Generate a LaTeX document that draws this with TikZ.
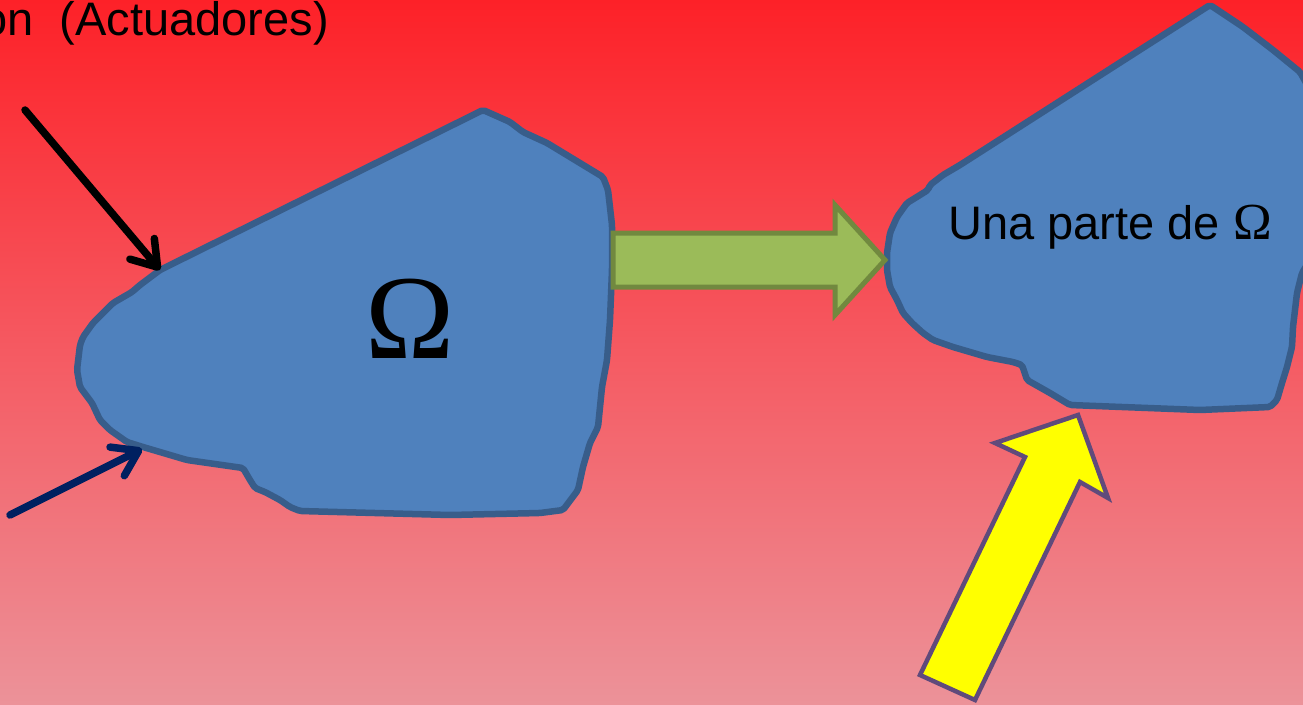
\documentclass[tikz,border=0pt]{standalone}
\usepackage{fontspec}
\setmainfont{Liberation Sans}
\newfontfamily\serifom{Liberation Serif}
\usetikzlibrary{arrows.meta}
\definecolor{bgtop}{RGB}{253,33,40}
\definecolor{bgmid}{RGB}{245,90,98}
\definecolor{bgbot}{RGB}{236,146,153}
\definecolor{blobfill}{RGB}{79,129,189}
\definecolor{blobline}{RGB}{56,93,138}
\definecolor{greenfill}{RGB}{155,187,89}
\definecolor{greenline}{RGB}{113,137,63}
\definecolor{yelfill}{RGB}{255,255,0}
\definecolor{yelline}{RGB}{96,74,123}
\definecolor{navy}{RGB}{0,32,96}
\tikzset{
  blob/.style={fill=blobfill, draw=blobline, line width=6.5pt, line join=round, rounded corners=2pt},
  greenarrow/.style={fill=greenfill, draw=greenline, line width=5pt, line join=miter},
  yelarrow/.style={fill=yelfill, draw=yelline, line width=4.5pt, line join=miter},
  actarrow/.style={line width=7.5pt, line cap=round, -{Straight Barb[round,length=24pt,width=32pt]}},
  lbl/.style={inner sep=0pt, font=\fontsize{47}{56}\selectfont},
}
\begin{document}
\begin{tikzpicture}[x=1pt,y=-1pt]
\useasboundingbox (0,0) rectangle (1303,704);
\shade[top color=bgtop, bottom color=bgbot, middle color=bgmid] (0,0) rectangle (1303,704);
% left blob
\draw[blob] (160,270) -- (483,110) -- (510,122) -- (523,132) -- (547,143) -- (575,160) -- (603,177) -- (608,190) -- (612,225) -- (612,270) -- (610,320) -- (607,360) -- (602,387) -- (598,427) -- (590,443) -- (583,467) -- (578,490) -- (563,510) -- (540,513) -- (450,515) -- (300,511) -- (290,507) -- (280,500) -- (265,492) -- (255,488) -- (250,480) -- (243,468) -- (187,460) -- (143,447) -- (127,442) -- (110,430) -- (100,420) -- (92,403) -- (80,387) -- (77,370) -- (80,345) -- (83,337) -- (93,323) -- (113,303) -- (132,292) -- (140,285) -- cycle;
% right blob
\draw[blob] (960,165) -- (1210,5) -- (1243,27) -- (1273,50) -- (1300,72) -- (1310,90) -- (1310,260) -- (1302,273) -- (1297,293) -- (1293,327) -- (1292,347) -- (1287,367) -- (1282,383) -- (1277,400) -- (1270,407) -- (1200,410) -- (1070,405) -- (1050,393) -- (1027,380) -- (1022,365) -- (1013,362) -- (987,357) -- (953,347) -- (933,340) -- (923,333) -- (912,323) -- (903,313) -- (897,300) -- (890,287) -- (887,270) -- (887,253) -- (890,233) -- (897,217) -- (907,203) -- (920,195) -- (928,190) -- (930,185) -- (943,175) -- cycle;
% green block arrow
\draw[greenarrow] (613,233) -- (835,233) -- (835,205) -- (885,260) -- (835,315) -- (835,287) -- (613,287) -- cycle;
% yellow block arrow
\draw[yelarrow] (1078,415) -- (1108,498) -- (1080,482) -- (975,700) -- (920,675) -- (1025,457) -- (995,443) -- cycle;
% labels
\node[lbl, anchor=base east] (act) at (329,35) {on\ \ (Actuadores)};
\node[inner sep=0pt, anchor=base, font=\serifom\fontsize{120}{126}\selectfont] (om) at (410,358) {Ω};
\node[lbl, anchor=base west] (parte) at (948,239) {Una parte de {\serifom\fontsize{52}{56}\selectfont Ω}};
% actuator arrows
\coordinate (a1s) at (25,110);
\coordinate (a1e) at (160,270);
\coordinate (a2s) at (10,515);
\coordinate (a2e) at (142,449);
\draw[actarrow, black] (a1s) -- (a1e);
\draw[actarrow, navy] (a2s) -- (a2e);
\end{tikzpicture}
\end{document}
